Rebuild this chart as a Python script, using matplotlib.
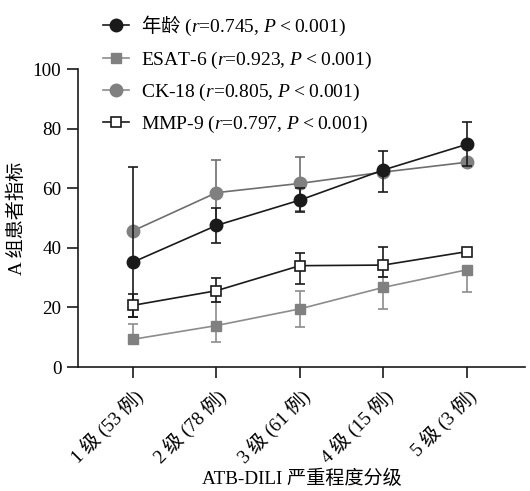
import matplotlib
matplotlib.use("Agg")
import matplotlib.pyplot as plt
import numpy as np
from matplotlib.lines import Line2D

plt.rcParams['font.family'] = ['Liberation Serif', 'Noto Sans CJK SC']
plt.rcParams['mathtext.fontset'] = 'custom'
plt.rcParams['mathtext.rm'] = 'Noto Sans CJK SC'
plt.rcParams['mathtext.it'] = 'Liberation Serif:italic'
plt.rcParams['mathtext.default'] = 'it'

categories = ["1 级 (53 例)", "2 级 (78 例)", "3 级 (61 例)", "4 级 (15 例)", "5 级 (3 例)"]

age_mean = [35.2, 47.5, 56.0, 66.1, 74.7]
age_lo = [18.3, 5.8, 4.1, 7.5, 7.3]
age_hi = [31.8, 5.8, 4.1, 6.5, 7.4]

esat_mean = [9.3, 13.9, 19.5, 26.7, 32.6]
esat_lo = [0.0, 5.5, 6.2, 7.2, 7.3]
esat_hi = [5.1, 8.0, 6.1, 3.6, 0.0]

ck_mean = [45.7, 58.5, 61.6, 65.4, 68.7]
ck_lo = [0.0, 11.0, 9.2, 0.0, 0.0]
ck_hi = [0.0, 11.0, 8.8, 0.0, 0.0]

mmp_mean = [20.7, 25.6, 34.0, 34.2, 38.7]
mmp_lo = [3.8, 3.7, 6.1, 3.9, 0.5]
mmp_hi = [3.8, 4.2, 4.2, 6.2, 0.5]

labels = ["$\\mathrm{年龄}$ ($r$=0.745, $P$\u2009<\u20090.001)",
          "ESAT-6 ($r$=0.923, $P$\u2009<\u20090.001)",
          "CK-18 ($r$=0.805, $P$\u2009<\u20090.001)",
          "MMP-9 ($r$=0.797, $P$\u2009<\u20090.001)"]

fig = plt.figure(figsize=(5.30, 4.91), dpi=100)
ax = fig.add_axes([78/530, 1-367/491, (525-78)/530, (367-69)/491])

x = np.arange(len(categories))
black = '#1a1a1a'
gray = '#808080'
lgray = '#8c8c8c'
fs = 13.8

ax.errorbar(x, age_mean, yerr=[age_lo, age_hi], color=black, lw=1.2,
            marker='o', ms=9, mfc=black, mec=black, capsize=3.8,
            elinewidth=1.2, capthick=1.2, zorder=4)
ax.errorbar(x, esat_mean, yerr=[esat_lo, esat_hi], color=lgray, lw=1.2,
            marker='s', ms=7.8, mfc=gray, mec=gray, capsize=3.8,
            elinewidth=1.2, capthick=1.2, zorder=3)
ax.errorbar(x, ck_mean, yerr=[ck_lo, ck_hi], color='#6e6e6e', lw=1.2,
            marker='o', ms=9, mfc=gray, mec=gray, capsize=3.8,
            elinewidth=1.2, capthick=1.2, zorder=3)
ax.errorbar(x, mmp_mean, yerr=[mmp_lo, mmp_hi], color=black, lw=1.2,
            marker='s', ms=7.5, mfc='white', mec=black, mew=1.2, capsize=3.8,
            elinewidth=1.2, capthick=1.2, zorder=5)

ax.set_xlim(-0.66, 4.7)
ax.set_ylim(0, 100)
ax.set_yticks([0, 20, 40, 60, 80, 100])
ax.set_xticks(x)
ax.set_xticklabels(categories, rotation=45, ha='right', va='top',
                   rotation_mode='anchor', fontsize=fs)
ax.tick_params(axis='y', direction='out', length=8, width=1.2, labelsize=fs, pad=4, color=black)
ax.tick_params(axis='x', direction='out', length=8, width=1.2, pad=6, color=black)
for s in ['top', 'right']:
    ax.spines[s].set_visible(False)
for s in ['left', 'bottom']:
    ax.spines[s].set_linewidth(1.2)
    ax.spines[s].set_color(black)

ax.set_ylabel("A 组患者指标", fontsize=fs, labelpad=5)
ax.set_xlabel("ATB-DILI 严重程度分级", fontsize=fs, labelpad=2)

handles = [
    Line2D([], [], color=black, lw=1.2, marker='o', ms=9, mfc=black, mec=black),
    Line2D([], [], color=lgray, lw=1.2, marker='s', ms=7.8, mfc=gray, mec=gray),
    Line2D([], [], color=lgray, lw=1.2, marker='o', ms=9, mfc=gray, mec=gray),
    Line2D([], [], color=black, lw=1.2, marker='s', ms=7.5, mfc='white', mec=black, mew=1.2),
]
fig.legend(handles, labels, loc='upper left', bbox_to_anchor=(103/530, 1-14/491),
           frameon=False, fontsize=14, handlelength=1.35, handletextpad=0.6,
           labelspacing=0.58, borderpad=0, borderaxespad=0)

fig.savefig("out.png", dpi=100)
